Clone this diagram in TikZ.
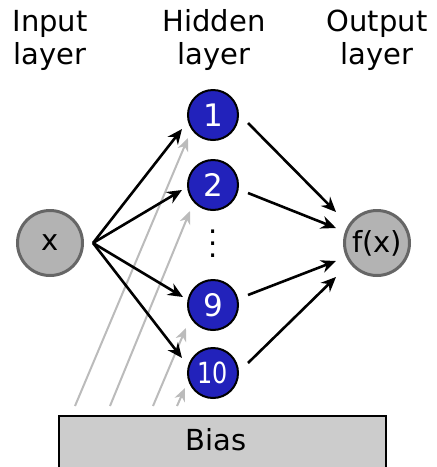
\documentclass[tikz,border=0pt]{standalone}
\usepackage{graphicx}
\usepackage{fontspec}
\setmainfont{DejaVu Sans}
\usetikzlibrary{arrows.meta,calc}
\definecolor{neuronblue}{RGB}{34,34,187}
\definecolor{unitgray}{RGB}{179,179,179}
\definecolor{unitedge}{RGB}{102,102,102}
\definecolor{biasfill}{RGB}{204,204,204}
\definecolor{biasline}{RGB}{187,187,187}
\begin{document}
\begin{tikzpicture}[x=1pt,y=-1pt,
  every node/.style={font=\fontsize{29}{33}\selectfont, inner sep=0pt},
  ionode/.style={circle, draw=unitedge, line width=3pt, fill=unitgray, minimum size=65pt},
  hidnode/.style={circle, draw=black, line width=2pt, fill=neuronblue, text=white, minimum size=50pt, font=\fontsize{31}{33}\selectfont},
  layerlabel/.style={align=center, anchor=base},
  wire/.style={-{Stealth[length=15pt,width=13pt,inset=5pt]}, line width=2.6pt, black},
  biaswire/.style={-{Stealth[length=13pt,width=11pt,inset=4pt]}, line width=2pt, biasline},
  biasbox/.style={rectangle, draw=black, line width=1.6pt, fill=biasfill, anchor=north west, minimum width=327pt, minimum height=70pt}
]
\useasboundingbox (0,0) rectangle (437,467);
\clip (0,0) rectangle (437,467);

% layer captions (base anchor sits on the second line)
\node[layerlabel] (capin)  at (50,64)  {Input\\layer};
\node[layerlabel] (caphid) at (214,64) {Hidden\\layer};
\node[layerlabel] (capout) at (377,64) {Output\\layer};

% units
\node[ionode] (in)  at (50,243)  {x};
\node[ionode] (out) at (377,243) {f(x)};
\node[hidnode] (h1)  at (213,115) {1};
\node[hidnode] (h2)  at (213,185) {2};
\node[hidnode] (h9)  at (213,305) {9};
\node[hidnode] (h10) at (213,373) {\scalebox{0.77}[0.94]{10}};
\node (dots) at (213,244) {\vbox{\baselineskip=12pt\hbox{.}\hbox{.}\hbox{.}}};

% bias block
\node[biasbox] (bias) at (58,415) {};
\node (biastext) at (216,440) {Bias};

% bias connections
\draw[biaswire] ($(bias.north west)+(17,-9)$)  -- ($(h1)+(-25,23)$);
\draw[biaswire] ($(bias.north west)+(52,-9)$)  -- ($(h2)+(-23,26)$);
\draw[biaswire] ($(bias.north west)+(95,-9)$)  -- ($(h9)+(-27,23)$);
\draw[biaswire] ($(bias.north west)+(119,-9)$) -- ($(h10)+(-28,15)$);

% input to hidden
\coordinate (xo) at ($(in.east)+(9,0)$);
\draw[wire] (xo) -- ($(h1)+(-31,14)$);
\draw[wire] (xo) -- ($(h2)+(-31,5)$);
\draw[wire] (xo) -- ($(h9)+(-30,-8)$);
\draw[wire] (xo) -- ($(h10)+(-31,-15)$);

% hidden to output
\draw[wire] ($(h1)+(35,8)$)    -- ($(out)+(-41,-31)$);
\draw[wire] ($(h2)+(35,8)$)    -- ($(out)+(-41,-15)$);
\draw[wire] ($(h9)+(35,-10)$)  -- ($(out)+(-41,18)$);
\draw[wire] ($(h10)+(35,-10)$) -- ($(out)+(-41,34)$);
\end{tikzpicture}
\end{document}
